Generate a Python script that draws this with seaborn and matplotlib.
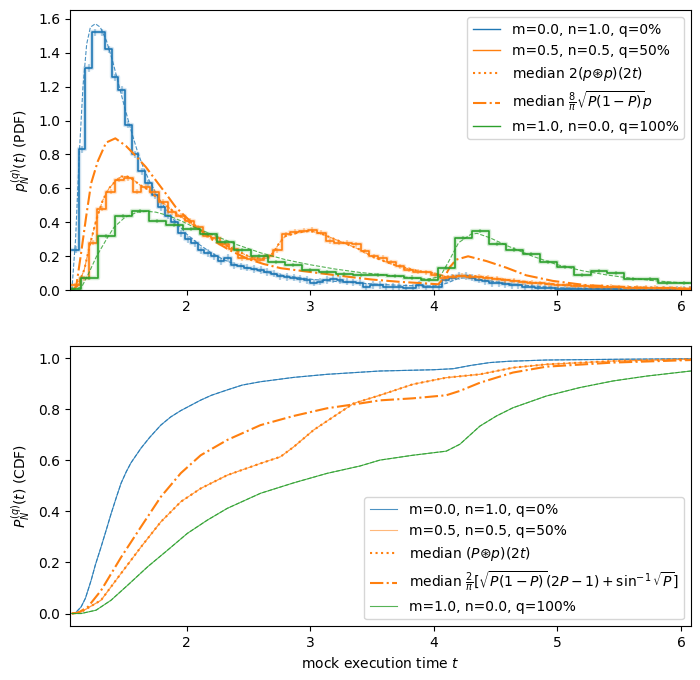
import numpy as np
import pandas as pd
import matplotlib
matplotlib.use('Agg')
import matplotlib.pyplot as plt
from matplotlib.lines import Line2D
import seaborn as sns

# --- Data ---
# histograms: first bin edge, bin width, heights
blue_start, blue_width = 1.073, 0.0535
blue_hist = [0.24, 0.83, 1.31, 1.52, 1.52, 1.42, 1.255, 1.18, 0.976, 0.80,
             0.70, 0.63, 0.56, 0.49, 0.44, 0.40, 0.335, 0.30, 0.276, 0.235,
             0.22, 0.20, 0.17, 0.19, 0.147, 0.141, 0.133, 0.125, 0.118, 0.108,
             0.098, 0.082, 0.078, 0.075, 0.067, 0.059, 0.045, 0.05, 0.06, 0.065,
             0.06, 0.05, 0.047, 0.045, 0.02, 0.03, 0.03, 0.02, 0.02, 0.018,
             0.016, 0.012, 0.03, 0.02, 0.02, 0.02, 0.063, 0.075, 0.085, 0.085,
             0.075, 0.063, 0.055, 0.043, 0.04, 0.035, 0.03, 0.028, 0.022, 0.02,
             0.016, 0.014, 0.012, 0.008, 0.008, 0.007, 0.007, 0.006, 0.006, 0.006,
             0.005, 0.005, 0.005, 0.004, 0.004, 0.004, 0.004, 0.003, 0.003, 0.003,
             0.003, 0.003, 0.003, 0.003]

orange_start, orange_width = 1.064, 0.071
orange_hist = [0.03, 0.07, 0.28, 0.48, 0.58, 0.65, 0.66, 0.58, 0.61, 0.58,
               0.52, 0.46, 0.44, 0.41, 0.37, 0.32, 0.31, 0.27, 0.245, 0.19,
               0.186, 0.18, 0.2, 0.235, 0.33, 0.343, 0.35, 0.355, 0.34, 0.29,
               0.28, 0.28, 0.27, 0.23, 0.2, 0.19, 0.165, 0.14, 0.12, 0.11,
               0.105, 0.09, 0.07, 0.08, 0.085, 0.08, 0.078, 0.075, 0.068, 0.06,
               0.055, 0.048, 0.043, 0.04, 0.035, 0.03, 0.028, 0.026, 0.024, 0.022,
               0.02, 0.019, 0.018, 0.016, 0.015, 0.014, 0.013, 0.012, 0.011, 0.01,
               0.01]

green_start, green_width = 1.005, 0.1375
green_hist = [0.005, 0.07, 0.32, 0.44, 0.466, 0.41, 0.385, 0.36, 0.333, 0.284,
              0.235, 0.2, 0.167, 0.15, 0.12, 0.105, 0.095, 0.09, 0.088, 0.085,
              0.075, 0.063, 0.13, 0.31, 0.347, 0.275, 0.24, 0.215, 0.167, 0.137,
              0.088, 0.112, 0.102, 0.065, 0.065, 0.04, 0.04]

# error bar half-heights
blue_err, orange_err, green_err = 0.022, 0.015, 0.012

# fitted / analytic PDFs
blue_fit_t = [1.07, 1.10, 1.13, 1.16, 1.19, 1.22, 1.26, 1.30, 1.35, 1.40,
              1.45, 1.50, 1.55, 1.60, 1.65, 1.70, 1.80, 1.90, 2.00, 2.10,
              2.20, 2.30, 2.40, 2.50, 2.60, 2.80, 3.00, 3.20, 3.40, 3.60,
              3.80, 4.00, 4.10, 4.20, 4.30, 4.40, 4.60, 4.80, 5.00, 5.50, 6.08]
blue_fit = [0.0, 0.3, 0.8, 1.2, 1.45, 1.55, 1.57, 1.55, 1.47, 1.35,
            1.21, 1.07, 0.94, 0.82, 0.72, 0.64, 0.51, 0.41, 0.33, 0.27,
            0.22, 0.18, 0.15, 0.13, 0.11, 0.085, 0.065, 0.052, 0.042, 0.033,
            0.027, 0.025, 0.04, 0.07, 0.075, 0.06, 0.04, 0.025, 0.015, 0.007, 0.003]

orange_med_t = [1.07, 1.12, 1.17, 1.22, 1.27, 1.32, 1.37, 1.42, 1.47, 1.52,
                1.57, 1.62, 1.67, 1.72, 1.80, 1.90, 2.00, 2.10, 2.20, 2.30,
                2.40, 2.50, 2.60, 2.65, 2.70, 2.75, 2.80, 2.90, 3.00, 3.10,
                3.20, 3.30, 3.40, 3.50, 3.60, 3.70, 3.80, 3.90, 4.00, 4.10,
                4.20, 4.30, 4.40, 4.60, 4.80, 5.00, 5.50, 6.08]
orange_med = [0.0, 0.03, 0.12, 0.28, 0.42, 0.53, 0.60, 0.64, 0.67, 0.67,
              0.65, 0.62, 0.60, 0.57, 0.52, 0.46, 0.41, 0.36, 0.31, 0.27,
              0.235, 0.20, 0.185, 0.19, 0.22, 0.28, 0.32, 0.34, 0.35, 0.33,
              0.30, 0.27, 0.24, 0.20, 0.17, 0.145, 0.125, 0.11, 0.10, 0.08,
              0.085, 0.085, 0.078, 0.06, 0.045, 0.032, 0.018, 0.01]

orange_dd_t = [1.07, 1.105, 1.145, 1.185, 1.226, 1.28, 1.347, 1.422, 1.508, 1.589,
               1.67, 1.75, 1.83, 1.91, 1.98, 2.10, 2.22, 2.35, 2.49, 2.62,
               2.76, 2.92, 3.08, 3.32, 3.50, 3.73, 3.90, 4.035, 4.08, 4.13,
               4.18, 4.277, 4.425, 4.586, 4.747, 4.962, 5.23, 5.63, 6.08]
orange_dd = [0.0, 0.02, 0.22, 0.43, 0.63, 0.76, 0.87, 0.895, 0.85, 0.79,
             0.725, 0.647, 0.57, 0.49, 0.44, 0.36, 0.29, 0.235, 0.186, 0.155,
             0.13, 0.115, 0.10, 0.078, 0.063, 0.049, 0.042, 0.035, 0.07, 0.137,
             0.18, 0.2, 0.172, 0.133, 0.088, 0.055, 0.03, 0.016, 0.008]

green_fit_t = [1.07, 1.15, 1.20, 1.27, 1.35, 1.41, 1.50, 1.60, 1.68, 1.75,
               1.85, 1.95, 2.05, 2.20, 2.40, 2.60, 2.80, 3.00, 3.20, 3.40,
               3.60, 3.80, 3.95, 4.05, 4.12, 4.20, 4.30, 4.35, 4.45, 4.60,
               4.80, 5.00, 5.20, 5.40, 5.60, 5.80, 6.08]
green_fit = [0.0, 0.02, 0.09, 0.2, 0.3, 0.37, 0.43, 0.46, 0.465, 0.46,
             0.44, 0.41, 0.375, 0.33, 0.27, 0.22, 0.18, 0.15, 0.125, 0.105,
             0.09, 0.075, 0.065, 0.08, 0.17, 0.28, 0.33, 0.335, 0.31, 0.26,
             0.2, 0.15, 0.115, 0.09, 0.07, 0.055, 0.04]

# CDFs
blue_cdf_t = [1.07, 1.09, 1.10, 1.145, 1.18, 1.226, 1.26, 1.306, 1.35, 1.387,
              1.43, 1.468, 1.51, 1.548, 1.63, 1.70, 1.79, 1.87, 1.952, 2.113,
              2.20, 2.328, 2.45, 2.597, 2.866, 3.135, 3.563, 4.0, 4.156, 4.3,
              4.453, 4.6, 4.91, 5.5, 6.08]
blue_cdf = [0.0, 0.0, 0.003, 0.026, 0.06, 0.13, 0.19, 0.26, 0.33, 0.39,
            0.455, 0.51, 0.555, 0.59, 0.648, 0.69, 0.738, 0.77, 0.795, 0.836,
            0.855, 0.876, 0.895, 0.908, 0.925, 0.937, 0.95, 0.955, 0.959, 0.972,
            0.983, 0.988, 0.993, 0.996, 0.998]

omed_cdf_t = [1.07, 1.145, 1.306, 1.468, 1.63, 1.79, 1.952, 2.113, 2.328, 2.597,
              2.758, 2.866, 3.027, 3.188, 3.35, 3.563, 3.83, 4.1, 4.372, 4.64,
              4.91, 5.45, 6.08]
omed_cdf = [0.0, 0.006, 0.052, 0.157, 0.261, 0.359, 0.438, 0.49, 0.542, 0.588,
            0.614, 0.653, 0.719, 0.771, 0.823, 0.855, 0.898, 0.924, 0.937, 0.963,
            0.976, 0.989, 0.996]

odd_cdf_t = [1.07, 1.12, 1.2, 1.306, 1.468, 1.63, 1.79, 1.952, 2.113, 2.328,
             2.597, 2.866, 3.135, 3.403, 3.563, 3.83, 4.1, 4.21, 4.372, 4.64,
             4.91, 5.45, 6.08]
odd_cdf = [0.0, 0.003, 0.026, 0.09, 0.22, 0.34, 0.457, 0.55, 0.62, 0.68,
           0.738, 0.774, 0.804, 0.823, 0.835, 0.843, 0.855, 0.872, 0.904, 0.944,
           0.967, 0.983, 0.993]

green_cdf_t = [1.07, 1.145, 1.266, 1.387, 1.522, 1.683, 1.844, 2.005, 2.167, 2.328,
               2.597, 2.866, 3.135, 3.403, 3.563, 3.83, 4.1, 4.21, 4.372, 4.507,
               4.64, 4.91, 5.18, 5.45, 5.72, 6.08]
green_cdf = [0.0, 0.0, 0.013, 0.052, 0.111, 0.183, 0.248, 0.314, 0.366, 0.412,
             0.471, 0.512, 0.549, 0.578, 0.601, 0.62, 0.636, 0.663, 0.734, 0.774,
             0.806, 0.852, 0.885, 0.911, 0.93, 0.95]

labels = ['m=0.0, n=1.0, q=0%', 'm=0.5, n=0.5, q=50%', 'm=1.0, n=0.0, q=100%']
C0, C1, C2 = '#1f77b4', '#ff7f0e', '#2ca02c'


def step_hist(ax, start, width, vals, color, err):
    edges = start + width * np.arange(len(vals) + 1)
    centers = 0.5 * (edges[:-1] + edges[1:])
    df = pd.DataFrame({'t': centers, 'h': vals})
    for alpha, lw in [(0.2, 3.2), (1.0, 1.2)]:
        sns.histplot(data=df, x='t', weights='h', bins=list(edges), element='step',
                     fill=False, color=color, alpha=alpha, lw=lw, ax=ax)
    ax.errorbar(centers, vals, yerr=err, fmt='none', ecolor=color, alpha=0.35, elinewidth=1.6)


fig, (ax1, ax2) = plt.subplots(2, 1, figsize=(7, 6.8), dpi=100)
fig.subplots_adjust(left=0.1, right=0.987, top=0.985, bottom=0.079, hspace=0.2)

# --- PDF panel ---
step_hist(ax1, blue_start, blue_width, blue_hist, C0, blue_err)
sns.lineplot(x=blue_fit_t, y=blue_fit, color=C0, lw=0.8, linestyle='--', alpha=0.8, ax=ax1)
step_hist(ax1, orange_start, orange_width, orange_hist, C1, orange_err)
sns.lineplot(x=orange_med_t, y=orange_med, color=C1, lw=0.8, linestyle='--', alpha=0.8, ax=ax1)
sns.lineplot(x=orange_med_t, y=orange_med, color=C1, lw=1.5, linestyle=':', ax=ax1)
sns.lineplot(x=orange_dd_t, y=orange_dd, color=C1, lw=1.5, linestyle='-.', ax=ax1)
step_hist(ax1, green_start, green_width, green_hist, C2, green_err)
sns.lineplot(x=green_fit_t, y=green_fit, color=C2, lw=0.8, linestyle='--', alpha=0.8, ax=ax1)

h1 = [Line2D([], [], color=C0, lw=1), Line2D([], [], color=C1, lw=1),
      Line2D([], [], color=C1, lw=1.5, ls=':'), Line2D([], [], color=C1, lw=1.5, ls='-.'),
      Line2D([], [], color=C2, lw=1)]
l1 = [labels[0], labels[1], r'median $2(p{\circledast}p)(2t)$',
      r'median $\frac{8}{\pi}\sqrt{P(1-P)}p$', labels[2]]
ax1.legend(h1, l1, loc='upper right')
ax1.set_xlim(1.055, 6.08)
ax1.set_ylim(0, 1.65)
ax1.set_xlabel('')
ax1.set_ylabel(r'$p_N^{(q)}(t)$ (PDF)')

# --- CDF panel ---
sns.lineplot(x=blue_cdf_t, y=blue_cdf, color=C0, lw=0.8, alpha=0.8, ax=ax2)
sns.lineplot(x=blue_cdf_t, y=blue_cdf, color=C0, lw=0.8, linestyle='--', alpha=0.8, ax=ax2)
sns.lineplot(x=omed_cdf_t, y=omed_cdf, color=C1, lw=0.8, alpha=0.55, ax=ax2)
sns.lineplot(x=omed_cdf_t, y=omed_cdf, color=C1, lw=0.8, linestyle='--', alpha=0.55, ax=ax2)
sns.lineplot(x=omed_cdf_t, y=omed_cdf, color=C1, lw=1.5, linestyle=':', ax=ax2)
sns.lineplot(x=odd_cdf_t, y=odd_cdf, color=C1, lw=1.5, linestyle='-.', ax=ax2)
sns.lineplot(x=green_cdf_t, y=green_cdf, color=C2, lw=0.8, alpha=0.8, ax=ax2)
sns.lineplot(x=green_cdf_t, y=green_cdf, color=C2, lw=0.8, linestyle='--', alpha=0.8, ax=ax2)

h2 = [Line2D([], [], color=C0, lw=0.8, alpha=0.8), Line2D([], [], color=C1, lw=0.8, alpha=0.55),
      Line2D([], [], color=C1, lw=1.5, ls=':'), Line2D([], [], color=C1, lw=1.5, ls='-.'),
      Line2D([], [], color=C2, lw=0.8, alpha=0.8)]
l2 = [labels[0], labels[1], r'median $(P{\circledast}p)(2t)$',
      r'median $\frac{2}{\pi}[\sqrt{P(1-P)}(2P-1)+\sin^{-1}\sqrt{P}]$', labels[2]]
ax2.legend(h2, l2, loc='lower right')
ax2.set_xlim(1.055, 6.08)
ax2.set_ylim(-0.05, 1.047)
ax2.set_xlabel(r'mock execution time $t$')
ax2.set_ylabel(r'$P_N^{(q)}(t)$ (CDF)')

fig.savefig('out.png', dpi=100)
